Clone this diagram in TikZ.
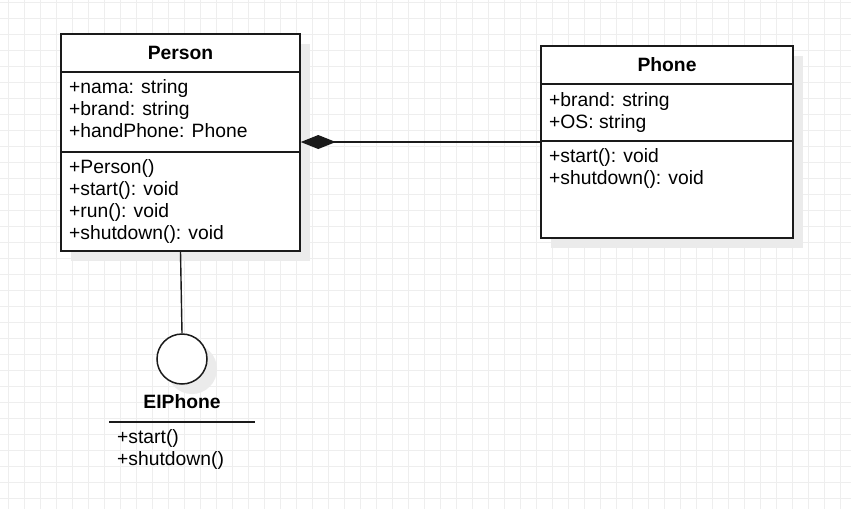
\documentclass[tikz,border=0pt]{standalone}
\usepackage{fontspec}
\setmainfont{Liberation Sans}
\usetikzlibrary{arrows.meta,shadows}
\definecolor{GridLine}{HTML}{EEEEEE}
\definecolor{ShadowGray}{HTML}{EBEBEB}
\definecolor{Border}{HTML}{1A1A1A}

\begin{document}
\begin{tikzpicture}[x=1pt,y=-1pt,
    gridline/.style={draw=GridLine, line width=1pt},
    classbox/.style={draw=Border, line width=1.5pt, fill=white, inner sep=0pt,
      drop shadow={shadow xshift=10pt, shadow yshift=-10pt, fill=ShadowGray, opacity=1}},
    sepline/.style={draw=Border, line width=1.5pt},
    classname/.style={font=\fontsize{19.3}{22}\selectfont\bfseries, anchor=base, inner sep=0pt},
    member/.style={font=\fontsize{19.3}{22}\selectfont, anchor=base west, inner sep=0pt},
    link/.style={draw=Border, line width=1.4pt}]
        % background and grid
        \useasboundingbox (0,0) rectangle (851,509);
        \fill[white] (0,0) rectangle (851,509);
        \foreach \gx in {8,24,...,848} \draw[gridline] (\gx,0) -- (\gx,509);
        \foreach \gy in {2,18,...,508} \draw[gridline] (0,\gy) -- (851,\gy);

        % Person
        \node[classbox, minimum width=239pt, minimum height=217pt] (person) at (180.5,142.5) {};
        \draw[sepline] (person.west |- 0,72) -- (person.east |- 0,72);
        \draw[sepline] (person.west |- 0,152) -- (person.east |- 0,152);
        \node[classname] (personname) at (180.5,59) {Person};
        \foreach \txt [count=\i] in {+nama: string, +brand: string, +handPhone: Phone}
          \node[member] (personattr\i) at (69,71+22*\i) {\txt};
        \foreach \txt [count=\i] in {+Person(), +start(): void, +run(): void, +shutdown(): void}
          \node[member] (personop\i) at (69,151+22*\i) {\txt};

        % Phone
        \node[classbox, minimum width=252pt, minimum height=192pt] (phone) at (667,142) {};
        \draw[sepline] (phone.west |- 0,84) -- (phone.east |- 0,84);
        \draw[sepline] (phone.west |- 0,141) -- (phone.east |- 0,141);
        \node[classname] (phonename) at (667,71) {Phone};
        \foreach \txt [count=\i] in {+brand: string, +OS: string}
          \node[member] (phoneattr\i) at (549,84+22*\i) {\txt};
        \foreach \txt [count=\i] in {+start(): void, +shutdown(): void}
          \node[member] (phoneop\i) at (549,140.5+22*\i) {\txt};

        % composition
        \draw[link, -{Diamond[length=35pt, width=14pt]}] (phone.west) -- (phone.west -| person.east);

        % interface EIPhone
        \node[classbox, circle, minimum size=50pt] (eiphone) at (182,359) {};
        \draw[link] (person.south) -- (eiphone.north);
        \node[classname] (eiphonename) at (182,408.5) {EIPhone};
        \coordinate (eiline-l) at (109,422);
        \coordinate (eiline-r) at (255,422);
        \draw[link] (eiline-l) -- (eiline-r);
        \node[member] (eiphoneop1) at (117,443.5) {+start()};
        \node[member] (eiphoneop2) at (117,465) {+shutdown()};
      \end{tikzpicture}
\end{document}
